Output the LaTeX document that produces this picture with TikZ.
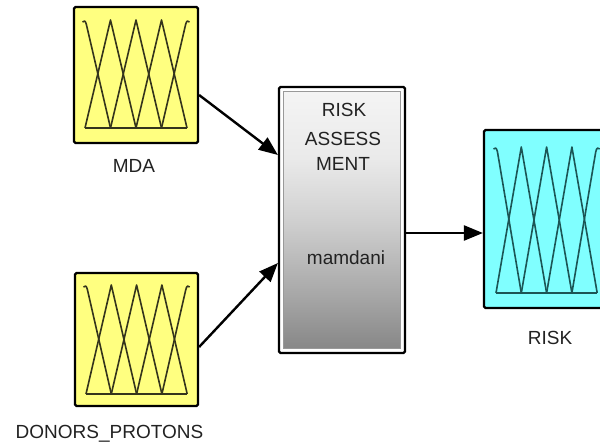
\documentclass[tikz,border=0pt]{standalone}
\usepackage{fontspec}
\setmainfont{Liberation Sans}
\usetikzlibrary{arrows.meta,calc}
\definecolor{fyellow}{HTML}{FFFF80}
\definecolor{fcyan}{HTML}{80FFFF}
\definecolor{mfolive}{HTML}{34341C}
\definecolor{mfteal}{HTML}{1C5555}
\definecolor{txt}{HTML}{222222}
\definecolor{gA}{HTML}{878787}
\definecolor{gB}{HTML}{A6A6A6}
\definecolor{gC}{HTML}{D0D0D0}
\definecolor{gD}{HTML}{EAEAEA}
\definecolor{gE}{HTML}{F4F4F4}
\pgfdeclareverticalshading{fisgrad}{100bp}{color(0bp)=(gA); color(25bp)=(gA); color(35bp)=(gB); color(50bp)=(gC); color(62bp)=(gD); color(75bp)=(gE); color(100bp)=(gE)}
\newcommand\drawmfs[5]{%
  \begin{scope}[mf,draw=#5]
    \foreach \i in {1,2,3}
      \draw ({#1+(\i-1)*#2},#4) -- ({#1+\i*#2},#3) -- ({#1+(\i+1)*#2},#4);
    \draw ({#1+#2},#4) -- ({#1+1.5},{#3+5}) .. controls ({#1+0.5},{#3+0.5}) and ({#1-1},{#3}) .. ({#1-2.5},{#3+2});
    \draw ({#1+3*#2},#4) -- ({#1+4*#2-1.5},{#3+5}) .. controls ({#1+4*#2-0.5},{#3+0.5}) and ({#1+4*#2+1},{#3}) .. ({#1+4*#2+2.5},{#3+2});
    \draw (#1,#4) -- ({#1+4*#2},#4);
  \end{scope}}
\begin{document}
\begin{tikzpicture}[x=1pt,y=-1pt,
  fisbox/.style={draw=black,line width=2.2pt,rounded corners=1.5pt,inner sep=0pt},
  lbl/.style={font=\fontsize{19}{26}\selectfont,text=txt,inner sep=0pt,anchor=base},
  conn/.style={line width=2.4pt,-{Triangle[length=19pt,width=15pt]}},
  mf/.style={line width=1.6pt,line join=round}]
\useasboundingbox (0,0) rectangle (600,442);
\clip (0,0) rectangle (600,442);
% input boxes
\node[fisbox,fill=fyellow,minimum width=124pt,minimum height=136pt] (mda) at (136,75) {};
\drawmfs{85}{25.5}{20}{128}{mfolive}
\node[lbl] (mdalbl) at (134,172) {MDA};
\node[fisbox,fill=fyellow,minimum width=123pt,minimum height=133pt] (dp) at (136.5,339.5) {};
\drawmfs{86}{25.3}{285}{394}{mfolive}
\node[lbl] (dplbl) at (109.5,438) {DONORS\_PROTONS};
% rule block
\node[fisbox,fill=white,minimum width=126pt,minimum height=266pt] (ra) at (342,220) {};
\node[draw=gray!80,line width=0.8pt,shading=fisgrad,minimum width=117pt,minimum height=257pt,inner sep=0pt] (rain) at (342,220) {};
\node[lbl] (rt1) at (344,116) {RISK};
\node[lbl] (rt2) at (343,145) {ASSESS};
\node[lbl] (rt3) at (343,170) {MENT};
\node[lbl] (rt4) at (346,264) {mamdani};
% output box
\node[fisbox,fill=fcyan,minimum width=124pt,minimum height=178pt] (risk) at (546,219) {};
\drawmfs{496}{25.3}{147}{293}{mfteal}
\node[lbl] (risklbl) at (550,344) {RISK};
% connectors
\draw[conn] ($(mda.east)+(0,20)$) -- ($(ra.west)+(0,-65)$);
\draw[conn] ($(dp.east)+(0,7.5)$) -- ($(ra.west)+(0,43)$);
\draw[conn] ($(ra.east)+(0,13)$) -- ($(risk.west)+(0,14)$);
\end{tikzpicture}
\end{document}
